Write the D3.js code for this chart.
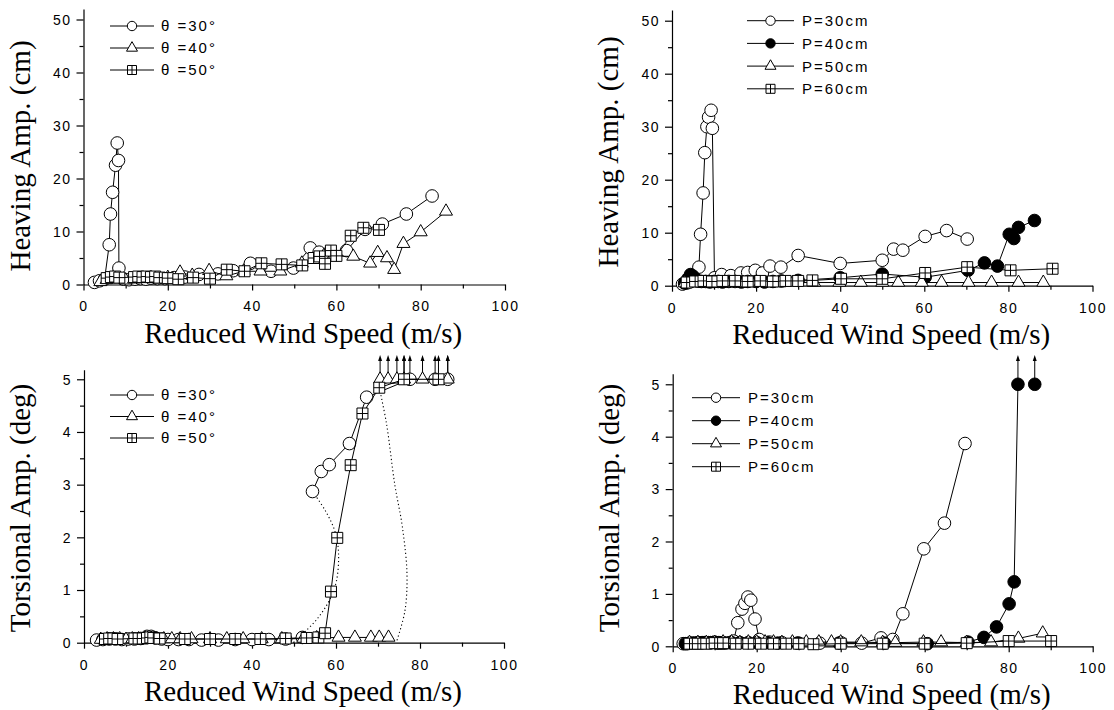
<!DOCTYPE html>
<html>
<head>
<meta charset="utf-8">
<script src="https://cdn.jsdelivr.net/npm/d3@7"></script>
<style>
  body { margin: 0; background: #fff; }
  svg { display: block; }
  .tick text { font-family: "Liberation Sans", Arial, sans-serif; font-size: 14px; letter-spacing: 1.5px; fill: #000; }
  .tick line, .domain { stroke: #000; stroke-width: 1.2px; }
  .title { font-family: "Liberation Serif", "Times New Roman", serif; font-size: 29px; fill: #000; }
  .leg { font-family: "Liberation Sans", Arial, sans-serif; font-size: 15px; letter-spacing: 2px; fill: #000; }
</style>
</head>
<body>
<svg width="1114" height="710"></svg>
<script>
// ---- data (reduced wind speed m/s, amplitude) ----
const xMajor = [0, 20, 40, 60, 80, 100];
const xMinor = [10, 30, 50, 70, 90];
const heaveMajor = [0, 10, 20, 30, 40, 50];
const heaveMinor = [5, 15, 25, 35, 45];
const torMajor = [0, 1, 2, 3, 4, 5];
const torMinor = [0.5, 1.5, 2.5, 3.5, 4.5];

const thetaLabels = ['\u03b8  =30\u00b0', '\u03b8  =40\u00b0', '\u03b8  =50\u00b0'];
const pitchLabels = ['P=30cm', 'P=40cm', 'P=50cm', 'P=60cm'];

// heaving amplitude (cm) vs angle
const heaveT30 = [[2.6,0.4],[3.8,0.7],[5.0,1.0],[6.1,7.5],[6.4,13.3],[6.9,17.4],[7.6,22.5],[8.0,26.7],[8.3,23.4],[8.4,3.1],
  [9.5,1.0],[10.8,0.9],[12.2,1.0],[13.5,1.1],[14.8,1.0],[16.0,1.2],[17.5,1.1],[19.3,1.1],[21.5,1.3],[24.1,1.4],[27.4,1.9],
  [31.9,2.0],[35.5,2.6],[39.6,4.0],[44.5,2.5],[49.8,3.1],[53.8,6.9],[55.9,6.1],[58.3,6.1],[62.4,6.4],[66.8,10.4],
  [70.9,11.4],[76.6,13.3],[82.7,16.7]];
const heaveT40 = [[4,0.5],[5.5,0.9],[7,1.2],[8.5,1.0],[10,0.8],[12,1.0],[14,1.1],[16,1.2],[18,1.0],[20,1.3],[22.9,2.3],
  [25.8,1.7],[29.8,2.6],[33.9,1.6],[38.0,2.5],[42.0,2.5],[46.7,2.5],[51.8,4.0],[57.0,5.4],[64.0,5.3],[68.0,4.0],[69.8,6.0],
  [72.0,5.0],[73.7,2.8],[75.9,7.7],[80.0,9.9],[86.0,13.8]];
const heaveT50 = [[5.5,1.2],[6.5,1.4],[7.5,1.5],[8.5,1.3],[12,1.4],[13,1.5],[14,1.4],[15,1.5],[16,1.4],[17,1.5],[18,1.3],
  [20,1.2],[22.5,1.0],[26,1.3],[30,1.1],[34.0,2.8],[38.2,2.5],[42.2,4.0],[47.0,3.8],[51.9,3.6],[54.6,5.0],[56.0,5.3],
  [57.3,3.9],[58.7,6.4],[60.0,5.4],[63.4,9.2],[66.4,10.7],[70.1,10.3]];

// heaving amplitude (cm) vs pitch
const heaveP30 = [[2.5,0.3],[3.5,0.5],[4.5,0.8],[5.5,1.2],[6.4,3.5],[6.8,9.7],[7.4,17.5],[7.8,25.1],[8.3,30.0],[8.7,31.8],
  [9.3,33.1],[9.6,29.7],[10.1,1.5],[11.8,2.1],[14.0,1.9],[16.4,2.4],[18.0,2.5],[19.8,2.9],[21.5,2.4],[23.3,3.7],[25.9,3.5],
  [30.0,5.7],[40.0,4.2],[50.0,4.8],[52.7,6.9],[54.9,6.7],[60.2,9.3],[65.3,10.4],[70.2,8.8]];
const heaveP40 = [[3.0,0.5],[3.8,1.3],[4.4,2.1],[5.0,1.8],[5.6,1.2],[6.2,0.9],[7,0.8],[8,0.8],[9,0.7],[10,0.8],[11,0.8],
  [12,0.7],[13.5,0.8],[15,0.8],[16.5,0.7],[18,0.8],[20,0.8],[22,0.7],[24,0.8],[26,0.9],[30,1.0],[40,1.5],[50,2.2],
  [60.2,1.6],[70.4,2.9],[74.3,4.3],[77.4,3.7],[80.2,9.7],[81.3,8.9],[82.4,11.0],[86.2,12.3]];
const heaveP50 = [[3,0.5],[5,0.5],[7,0.5],[9,0.6],[11,0.5],[13,0.5],[15,0.6],[17,0.5],[19,0.5],[21,0.6],[23,0.5],
  [25.5,0.5],[28.7,0.6],[33.8,0.6],[39.8,0.6],[44.9,0.6],[50,0.6],[53.8,0.6],[59.4,0.6],[64.1,0.6],[70.5,0.6],[76,0.6],
  [82.4,0.6],[88.3,0.6]];
const heaveP60 = [[3.5,0.6],[5.5,0.8],[7.5,0.9],[9.5,0.8],[12,0.9],[15,0.9],[18,0.8],[21,0.9],[24,0.8],[27,0.9],[30,0.9],
  [33.4,1.0],[40.2,1.3],[50,1.3],[60.2,2.4],[70.2,3.5],[80.5,2.9],[90.5,3.2]];

// torsional amplitude (deg) vs angle; null = break in the line, 5 = off scale
const torT30 = [[3,0.05],[4.5,0.06],[6,0.07],[7.5,0.07],[9,0.06],[10.5,0.07],[12,0.07],[13.5,0.08],[15,0.12],[16,0.12],
  [17,0.09],[18.5,0.07],[20,0.06],[22.5,0.06],[25,0.06],[28,0.05],[32,0.05],[36,0.06],[40,0.06],[44,0.06],[48,0.07],
  [52,0.1],null,[54.4,2.87],[56.5,3.25],[58.4,3.38],[63.2,3.78],[67.3,4.66],[77.6,5],[83.6,5],[86.6,5]];
const torT40 = [[4,0.06],[5.5,0.07],[7,0.07],[8.5,0.07],[10,0.06],[11.5,0.07],[13,0.07],[14.5,0.08],[16,0.08],[17.3,0.07],
  [19,0.07],[20.9,0.07],[22.9,0.07],[25.6,0.07],[30,0.07],[34,0.07],[37.9,0.07],[42.3,0.07],[47.1,0.07],[52.2,0.08],
  [55.4,0.09],[60.6,0.1],[64.5,0.1],[68.3,0.1],[70.3,0.1],[72.5,0.1],null,[70.5,5],[72.4,5],[74.5,5],[76.2,5],[80.6,5],[86.6,5]];
const torT50 = [[5,0.07],[6,0.08],[7,0.08],[8,0.07],[12,0.08],[13,0.08],[14,0.08],[15,0.09],[15.8,0.1],[16.5,0.09],[18,0.08],
  [24,0.07],[30,0.07],[36,0.07],[42,0.07],[48,0.08],[53,0.09],[55.8,0.1],[57.4,0.18],[58.8,0.97],[60.3,1.99],[63.5,3.37],
  [66.3,4.35],[70.3,4.84],[76.2,5],[84.4,5]];
// hand-drawn hysteresis guides (dotted)
const hystLow = [[54.4,2.87],[57.5,2.5],[59.8,2.1],[60.6,1.7],[60.1,1.17],[58.4,0.8],[55.5,0.45],[52.5,0.2],[49.8,0]];
const hystHigh = [[70.3,4.84],[72,4.17],[74,3.0],[75.8,2.2],[76.9,1.3],[76.4,0.6],[74.5,0.04]];

// torsional amplitude (deg) vs pitch
const torP30 = [[2.5,0.05],[3.5,0.05],[4.5,0.06],[5.5,0.06],[6.5,0.06],[7.5,0.07],[8.5,0.07],[9.5,0.07],[10.5,0.06],
  [11.5,0.06],[12.5,0.06],[13.5,0.07],[14.5,0.1],[15.5,0.45],[16.5,0.71],[17.2,0.82],[17.9,0.94],[18.6,0.88],[19.6,0.52],
  [20.6,0.13],[23,0.08],[26,0.07],[30,0.06],[35,0.06],[40,0.07],[45,0.06],[49.6,0.16],[52.4,0.13],[54.8,0.62],[59.8,1.86],
  [64.7,2.35],[69.6,3.87]];
const torP40 = [[3,0.05],[4,0.06],[5,0.06],[6,0.07],[7,0.07],[8,0.07],[9,0.07],[10,0.08],[11,0.07],[12,0.07],[14,0.07],
  [16,0.07],[18,0.07],[20,0.07],[22.5,0.07],[25,0.06],[29.7,0.06],[39.6,0.06],[50.4,0.06],[60.6,0.05],[70.3,0.08],
  [74.1,0.17],[77.1,0.37],[80.1,0.81],[81.3,1.23],[82.2,5],null,[86.2,5]];
const torP50 = [[4,0.07],[6,0.07],[8,0.07],[10,0.07],[12,0.08],[14,0.08],[16,0.07],[18,0.08],[20,0.08],[22,0.08],[24,0.08],
  [26,0.07],[28.5,0.08],[31.8,0.08],[34.8,0.08],[37.8,0.08],[40,0.08],[44.9,0.08],[50,0.07],[53,0.07],[59.7,0.08],
  [63.9,0.08],[70,0.07],[75.8,0.08],[82.3,0.15],[88.1,0.25]];
const torP60 = [[4,0.05],[6,0.05],[8,0.05],[10,0.06],[12,0.06],[15,0.05],[18,0.05],[21,0.05],[24,0.05],[27,0.05],[30,0.05],
  [33.5,0.04],[40,0.05],[50,0.05],[60,0.05],[70,0.06],[80,0.1],[90.1,0.1]];

const svg = d3.select('svg');

// marker shapes
const mk = {
  circle: r => d3.symbol(d3.symbolCircle, Math.PI * r * r)(),
  tri: s => d3.symbol(d3.symbolTriangle, Math.sqrt(3) / 4 * s * s)(),
  sq: s => {
    const h = s / 2;
    return `M${-h},${-h}H${h}V${h}H${-h}Z M0,${-h}V${h} M${-h},0H${h}`;
  }
};
const markerPath = (sym, big) => {
  if (sym === 'circle') return mk.circle(big ? 6.3 : 4.7);
  if (sym === 'tri') return mk.tri(big ? 13 : 11);
  return mk.sq(big ? 11 : 9);
};

const panels = [
  { x: [83.5, 505], y: [284.5, 8.9], ymax: 52, major: heaveMajor, minor: heaveMinor,
    ytitle: 'Heaving Amp. (cm)', ytc: 156,
    series: [
      { data: heaveT30, sym: 'circle', fill: '#fff', label: thetaLabels[0] },
      { data: heaveT40, sym: 'tri', fill: '#fff', label: thetaLabels[1] },
      { data: heaveT50, sym: 'sq', fill: '#fff', label: thetaLabels[2] }],
    leg: { x1: 110, x2: 154, tx: 161, y0: 26, dy: 22 } },
  { x: [672, 1092.5], y: [285.7, 10.1], ymax: 52, major: heaveMajor, minor: heaveMinor,
    ytitle: 'Heaving Amp. (cm)', ytc: 152,
    series: [
      { data: heaveP30, sym: 'circle', fill: '#fff', label: pitchLabels[0] },
      { data: heaveP40, sym: 'circle', fill: '#000', label: pitchLabels[1] },
      { data: heaveP50, sym: 'tri', fill: '#fff', label: pitchLabels[2] },
      { data: heaveP60, sym: 'sq', fill: '#fff', label: pitchLabels[3] }],
    leg: { x1: 747, x2: 794, tx: 802, y0: 20.7, dy: 22.7 } },
  { x: [84, 504], y: [642.7, 369.8], ymax: 5.18, major: torMajor, minor: torMinor,
    ytitle: 'Torsional Amp. (deg)', ytc: 508, cap: 5,
    dotted: [hystLow, hystHigh],
    series: [
      { data: torT30, sym: 'circle', fill: '#fff', label: thetaLabels[0] },
      { data: torT40, sym: 'tri', fill: '#fff', label: thetaLabels[1] },
      { data: torT50, sym: 'sq', fill: '#fff', label: thetaLabels[2] }],
    leg: { x1: 110, x2: 154, tx: 161, y0: 395, dy: 21.5 } },
  { x: [672.7, 1092.7], y: [646.3, 373.8], ymax: 5.2, major: torMajor, minor: torMinor,
    ytitle: 'Torsional Amp. (deg)', ytc: 508, cap: 5,
    series: [
      { data: torP30, sym: 'circle', fill: '#fff', label: pitchLabels[0] },
      { data: torP40, sym: 'circle', fill: '#000', label: pitchLabels[1] },
      { data: torP50, sym: 'tri', fill: '#fff', label: pitchLabels[2] },
      { data: torP60, sym: 'sq', fill: '#fff', label: pitchLabels[3] }],
    leg: { x1: 692, x2: 740, tx: 748, y0: 397.7, dy: 23 } }
];

panels.forEach(p => {
  const x = d3.scaleLinear().domain([0, 100]).range(p.x);
  const y = d3.scaleLinear().domain([0, p.ymax]).range(p.y);
  const g = svg.append('g');

  // axes
  g.append('g').attr('transform', `translate(0,${p.y[0]})`)
    .call(d3.axisBottom(x).tickValues(xMinor).tickSize(4).tickFormat('').tickSizeOuter(0))
    .call(a => a.select('.domain').remove());
  g.append('g').attr('transform', `translate(0,${p.y[0]})`)
    .call(d3.axisBottom(x).tickValues(xMajor).tickSize(6).tickPadding(11).tickSizeOuter(0).tickFormat(d3.format('d')));
  g.append('g').attr('transform', `translate(${p.x[0]},0)`)
    .call(d3.axisLeft(y).tickValues(p.minor).tickSize(4).tickFormat('').tickSizeOuter(0))
    .call(a => a.select('.domain').remove());
  g.append('g').attr('transform', `translate(${p.x[0]},0)`)
    .call(d3.axisLeft(y).tickValues(p.major).tickSize(7).tickPadding(5).tickSizeOuter(0).tickFormat(d3.format('d')));
  g.selectAll('.tick text').each(function() {
    const t = d3.select(this);
    if (t.attr('x') && +t.attr('x') < 0) t.attr('dy', '0.35em');
    else t.attr('dy', '0.71em');
  });

  // titles
  g.append('text').attr('class', 'title').attr('text-anchor', 'middle')
    .attr('x', (p.x[0] + p.x[1]) / 2 + 9).attr('y', p.y[0] + 58)
    .text('Reduced Wind Speed (m/s)');
  g.append('text').attr('class', 'title').attr('text-anchor', 'middle')
    .attr('transform', `translate(${p.x[0] - 54},${p.ytc}) rotate(-90)`)
    .text(p.ytitle);

  const line = d3.line().defined(d => d != null).x(d => x(d[0])).y(d => y(d[1]));

  // dotted guides
  (p.dotted || []).forEach(dd => {
    g.append('path').attr('d', d3.line().curve(d3.curveCatmullRom).x(d => x(d[0])).y(d => y(d[1]))(dd))
      .attr('fill', 'none').attr('stroke', '#000').attr('stroke-width', 1.1)
      .attr('stroke-dasharray', '1.2,2.6');
  });

  p.series.forEach(s => {
    g.append('path').attr('d', line(s.data))
      .attr('fill', 'none').attr('stroke', '#000').attr('stroke-width', 1);
    const pts = s.data.filter(d => d != null);
    if (p.cap) {
      pts.filter(d => d[1] >= p.cap).forEach(d => {
        const cx = x(d[0]), cy = y(d[1]);
        g.append('line').attr('x1', cx).attr('x2', cx).attr('y1', cy).attr('y2', 360)
          .attr('stroke', '#000').attr('stroke-width', 1);
        g.append('path').attr('d', `M${cx},355L${cx - 2},361L${cx + 2},361Z`).attr('fill', '#000');
      });
    }
    g.selectAll(null).data(pts).enter().append('path')
      .attr('d', markerPath(s.sym, true))
      .attr('transform', d => `translate(${x(d[0])},${y(d[1])})`)
      .attr('fill', s.fill).attr('stroke', '#000').attr('stroke-width', 1);
  });

  // legend
  p.series.forEach((s, i) => {
    const ly = p.leg.y0 + i * p.leg.dy;
    const lg = g.append('g');
    lg.append('line').attr('x1', p.leg.x1).attr('x2', p.leg.x2).attr('y1', ly).attr('y2', ly)
      .attr('stroke', '#000').attr('stroke-width', 1);
    lg.append('path').attr('d', markerPath(s.sym, false))
      .attr('transform', `translate(${(p.leg.x1 + p.leg.x2) / 2},${ly})`)
      .attr('fill', s.fill).attr('stroke', '#000').attr('stroke-width', 1);
    lg.append('text').attr('class', 'leg').attr('x', p.leg.tx).attr('y', ly).attr('dy', '0.36em')
      .text(s.label);
  });
});
</script>
</body>
</html>
